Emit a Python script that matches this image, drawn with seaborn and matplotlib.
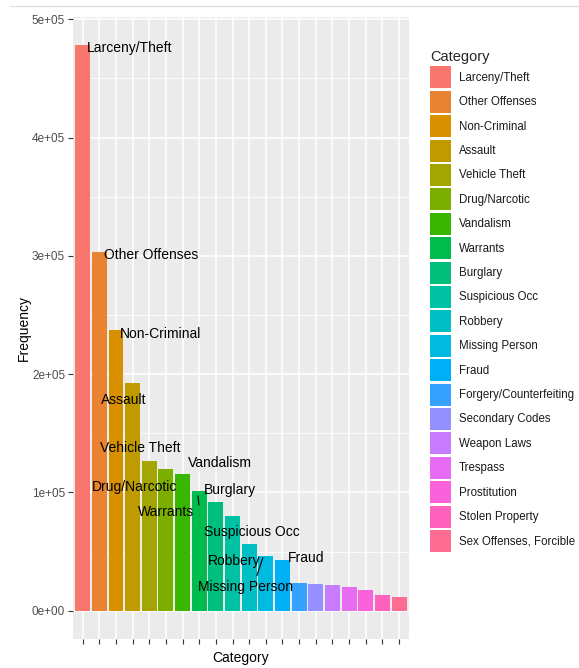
import matplotlib.pyplot as plt
import seaborn as sns
import pandas as pd
from matplotlib.patches import Patch
from matplotlib.lines import Line2D
from matplotlib.ticker import MultipleLocator
from matplotlib import font_manager

categories = ["Larceny/Theft", "Other Offenses", "Non-Criminal", "Assault",
              "Vehicle Theft", "Drug/Narcotic", "Vandalism", "Warrants",
              "Burglary", "Suspicious Occ", "Robbery", "Missing Person",
              "Fraud", "Forgery/Counterfeiting", "Secondary Codes",
              "Weapon Laws", "Trespass", "Prostitution", "Stolen Property",
              "Sex Offenses, Forcible"]
frequency = [478000, 303000, 237000, 192500, 127000, 119500, 116000, 101000,
             92000, 80000, 56000, 46000, 43000, 23500, 23000, 21500, 20000,
             17500, 13000, 12000]
# ggplot default hue palette, 20 levels
palette = ["#F8766D", "#EA8331", "#D89000", "#C09B00", "#A3A500", "#7CAE00",
           "#39B600", "#00BB4E", "#00BF7D", "#00C1A3", "#00BFC4", "#00BAE0",
           "#00B0F6", "#35A2FF", "#9590FF", "#C77CFF", "#E76BF3", "#FA62DB",
           "#FF62BC", "#FF6C91"]
y_ticks = [0, 100000, 200000, 300000, 400000, 500000]
y_tick_labels = ["0e+00", "1e+05", "2e+05", "3e+05", "4e+05", "5e+05"]

# bar labels (repelled like ggrepel): text, left x (category units), centre y
label_text = ["Larceny/Theft", "Other Offenses", "Non-Criminal", "Assault",
              "Vehicle Theft", "Vandalism", "Drug/Narcotic", "Burglary",
              "Warrants", "Suspicious Occ", "Robbery", "Missing Person", "Fraud"]
label_x = [0.26, 1.28, 2.24, 1.10, 1.04, 6.32, 0.56, 7.28, 3.32, 7.28, 7.52,
           6.92, 12.32]
label_y = [476000, 300500, 234000, 178000, 137500, 125000, 104500, 102000,
           83500, 66500, 42000, 20000, 45000]

sns.set_theme(style="darkgrid")
installed = {f.name for f in font_manager.fontManager.ttflist}
narrow = "Liberation Sans Narrow" in installed
plt.rcParams['font.family'] = (['Liberation Sans Narrow'] if narrow else []) + \
    ['Liberation Sans', 'DejaVu Sans']
fs_lab = 11.5 if narrow else 10
fs_leg = 9.5 if narrow else 8.3

fig = plt.figure(figsize=(5.79, 6.68), dpi=100)
ax = fig.add_axes([0.1256, 0.0434, 0.5808, 0.9311])

df = pd.DataFrame({"Category": categories, "Frequency": frequency})
sns.barplot(data=df, x="Category", y="Frequency", hue="Category",
            order=categories, hue_order=categories, palette=palette,
            saturation=1, width=0.9, linewidth=0, legend=False, ax=ax)

ax.set_facecolor("#EBEBEB")
ax.set_xlim(-0.6, len(categories) - 0.4)
ax.set_ylim(-0.05 * max(frequency), 1.05 * max(frequency))
ax.set_axisbelow(True)
ax.set_yticks(y_ticks)
ax.set_yticklabels(y_tick_labels)
ax.yaxis.set_minor_locator(MultipleLocator(50000))
ax.set_xticks(range(len(categories)))
ax.set_xticklabels([""] * len(categories))
ax.grid(which="major", color="white", linewidth=1.1)
ax.grid(which="minor", axis="y", color="white", linewidth=0.55)
for s in ax.spines.values():
    s.set_visible(False)
ax.tick_params(axis="both", which="major", bottom=True, left=True,
               length=3.5, width=0.8, color="#333333", labelcolor="#4D4D4D",
               labelsize=8.5, pad=2)
ax.tick_params(axis="y", which="minor", length=0)

ax.set_xlabel("Category", fontsize=fs_lab, color="black", labelpad=3)
ax.set_ylabel("Frequency", fontsize=fs_lab, color="black", labelpad=1)

for t, x, y in zip(label_text, label_x, label_y):
    ax.text(x, y, t, ha="left", va="center", fontsize=fs_lab, color="black")

# repel segments
ax.plot([6.92, 6.98], [97100, 89500], color="black", linewidth=0.8)
ax.plot([10.82, 10.46], [44800, 29600], color="black", linewidth=0.8)

fpx = fs_leg * 100 / 72
handles = [Patch(facecolor=c, edgecolor="none", label=n)
           for c, n in zip(palette, categories)]
leg = ax.legend(handles=handles, title="Category", loc="upper left",
                bbox_to_anchor=(430 / 579, 1 - 50 / 668),
                bbox_transform=fig.transFigure, frameon=False, borderpad=0,
                borderaxespad=0, fontsize=fs_leg, title_fontsize=10.5,
                handlelength=21 / fpx,
                handleheight=(22 - 0.245 * fpx) / (0.65 * fpx),
                labelspacing=2.4 / fpx, handletextpad=8 / fpx,
                alignment="left")
for txt in leg.get_texts():
    txt.set_color("#1a1a1a")

fig.add_artist(Line2D([10 / 579, 1], [1 - 6 / 668, 1 - 6 / 668],
                      transform=fig.transFigure, color="#d9e2e8", linewidth=1))

fig.savefig("out.png", dpi=100)
